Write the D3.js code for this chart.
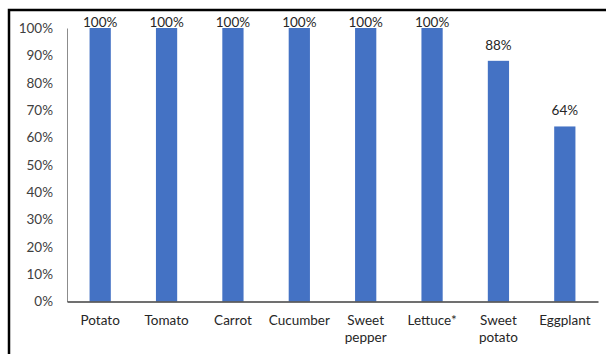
<!DOCTYPE html>
<html><head><meta charset="utf-8">
<script src="https://cdn.jsdelivr.net/npm/d3@7"></script>
<style>body{margin:0;background:#fff}svg{display:block}text{font-family:Lato,"Open Sans",sans-serif}</style>
</head><body><svg id="c" width="606" height="354"></svg>
<script>
const categories = ["Potato","Tomato","Carrot","Cucumber","Sweet pepper","Lettuce*","Sweet potato","Eggplant"];
const values = [100,100,100,100,100,100,88,64];
const yTicks = [0,10,20,30,40,50,60,70,80,90,100];

const svg = d3.select("#c");
// outer frame
svg.append("path").attr("d","M9,360 L9,10 L620,10").attr("fill","none").attr("stroke","#000").attr("stroke-width",2.5);

const x = d3.scaleBand().domain(categories).range([67,598]).paddingInner(0.68).paddingOuter(0.34);
const y = d3.scaleLinear().domain([0,100]).range([301.5,28]);

// y axis labels
const ya = svg.append("g").attr("transform","translate(67,0)")
  .call(d3.axisLeft(y).tickValues(yTicks).tickFormat(d=>d+"%").tickSize(0).tickPadding(14));
ya.select(".domain").attr("stroke","#8c8c8c").attr("stroke-width",1);
ya.selectAll("text").attr("font-size",13.5).attr("fill","#404040").style("font-family","Lato");

// bars
svg.selectAll("rect.bar").data(values).join("rect").attr("class","bar")
  .attr("x",(d,i)=>x(categories[i])).attr("width",x.bandwidth())
  .attr("y",d=>y(d)).attr("height",d=>y(0)-y(d)).attr("fill","#4472C4");

// x axis
const xa = svg.append("g").attr("transform","translate(0,301.5)")
  .call(d3.axisBottom(x).tickSize(0).tickSizeOuter(0).tickFormat(""));
xa.select(".domain").attr("stroke","#404040").attr("stroke-width",1.5);
xa.selectAll(".tick").each(function(d){
  const t = d3.select(this).append("text").attr("fill","#262626").attr("font-size",13.5)
    .attr("text-anchor","middle").style("font-family","Lato");
  const words = d.split(" ");
  words.forEach((w,k)=>t.append("tspan").attr("x",0).attr("y",23+k*17).text(w));
});

// data labels
svg.selectAll("text.lbl").data(values).join("text").attr("class","lbl")
  .attr("x",(d,i)=>x(categories[i])+x.bandwidth()/2).attr("y",d=>Math.max(y(d)-11, 27))
  .attr("text-anchor","middle").attr("font-size",13.5).attr("fill","#262626")
  .style("font-family","Lato").text(d=>d+"%");
</script></body></html>
